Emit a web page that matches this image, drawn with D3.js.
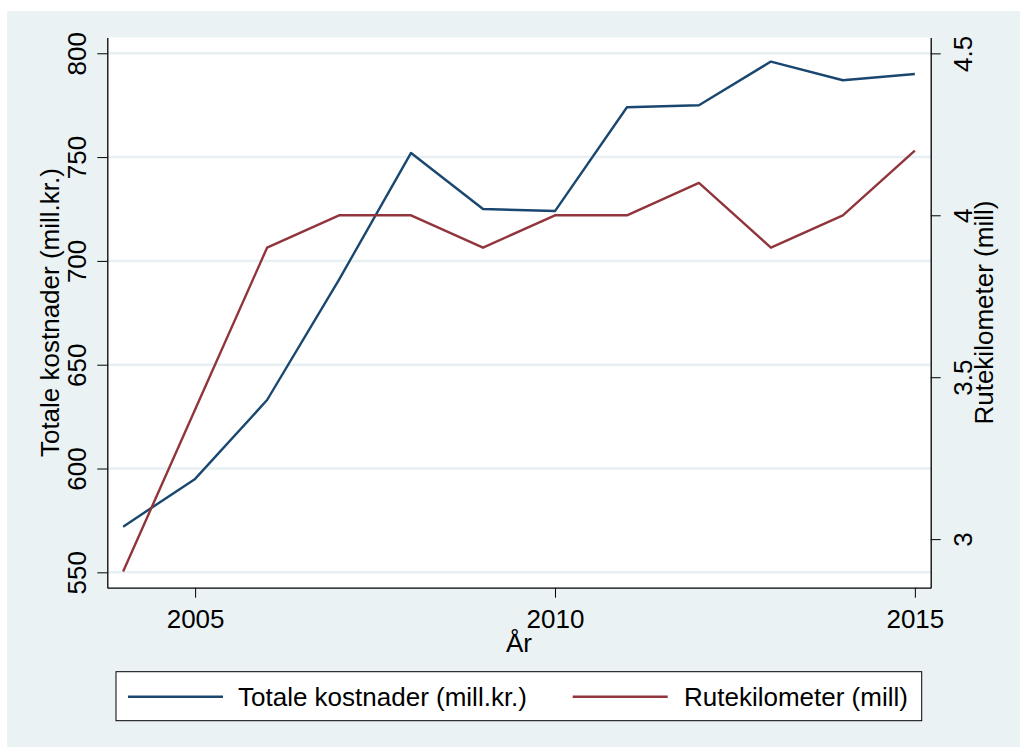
<!DOCTYPE html>
<html>
<head>
<meta charset="utf-8">
<script src="https://cdn.jsdelivr.net/npm/d3@7"></script>
<style>
  html, body { margin: 0; padding: 0; background: #ffffff; }
  svg { display: block; font-family: "Liberation Sans", Arial, sans-serif; }
</style>
</head>
<body>
<svg id="chart" width="1020" height="747"></svg>
<script>
// ---- data ----
const years = [2004, 2005, 2006, 2007, 2008, 2009, 2010, 2011, 2012, 2013, 2014, 2015];
const totalCosts = [572, 595, 633, 691, 752, 725, 724, 774, 775, 796, 787, 790];
const routeKm = [2.9, 3.4, 3.9, 4.0, 4.0, 3.9, 4.0, 4.0, 4.1, 3.9, 4.0, 4.2];
const xTicks = [2005, 2010, 2015];
const leftTicks = [550, 600, 650, 700, 750, 800];
const rightTicks = [3, 3.5, 4, 4.5];
const seriesNames = ["Totale kostnader (mill.kr.)", "Rutekilometer (mill)"];
const xTitle = "År";
const leftTitle = "Totale kostnader (mill.kr.)";
const rightTitle = "Rutekilometer (mill)";

const colors = ["#1a476f", "#90353b"];
const FS = 26;

const svg = d3.select("#chart");
const W = 1020, H = 747;
const plot = { left: 107.3, right: 930.7, top: 37.5, bottom: 587.7 };

// background panel
svg.append("rect").attr("x", 0).attr("y", 0).attr("width", W).attr("height", H).attr("fill", "#ffffff");
svg.append("rect").attr("x", 7).attr("y", 11).attr("width", W - 7).attr("height", H - 11).attr("fill", "#eaf2f3");
svg.append("rect").attr("x", plot.left).attr("y", plot.top)
  .attr("width", plot.right - plot.left).attr("height", plot.bottom - plot.top).attr("fill", "#ffffff");

// scales
const x = d3.scaleLinear().domain([2003.78, 2015.22]).range([plot.left, plot.right]);
const yL = d3.scaleLinear().domain([542.6, 807.6]).range([plot.bottom, plot.top]);
const yR = d3.scaleLinear().domain([2.85, 4.549]).range([plot.bottom, plot.top]);

// gridlines
svg.append("g").selectAll("line").data(leftTicks).join("line")
  .attr("x1", plot.left).attr("x2", plot.right)
  .attr("y1", d => yL(d)).attr("y2", d => yL(d))
  .attr("stroke", "#e6eff1").attr("stroke-width", 2.5);

// lines
const lineL = d3.line().x((d, i) => x(years[i])).y(d => yL(d));
const lineR = d3.line().x((d, i) => x(years[i])).y(d => yR(d));
svg.append("path").datum(totalCosts).attr("d", lineL)
  .attr("fill", "none").attr("stroke", colors[0]).attr("stroke-width", 2.4).attr("stroke-linejoin", "round");
svg.append("path").datum(routeKm).attr("d", lineR)
  .attr("fill", "none").attr("stroke", colors[1]).attr("stroke-width", 2.4).attr("stroke-linejoin", "round");

// axes
function styleAxis(g) {
  g.select(".domain").attr("stroke", "#000").attr("stroke-width", 1.3);
  g.selectAll(".tick line").attr("stroke", "#000").attr("stroke-width", 1);
  g.selectAll(".tick text").attr("fill", "#000").attr("font-size", FS)
    .attr("font-family", "'Liberation Sans', Arial, sans-serif");
}

const gL = svg.append("g").attr("transform", `translate(${plot.left},0)`)
  .call(d3.axisLeft(yL).tickValues(leftTicks).tickSize(10).tickSizeOuter(0).tickFormat(d3.format("d")));
styleAxis(gL);
gL.selectAll(".tick text").attr("transform", "rotate(-90)")
  .attr("x", 0).attr("y", -21).attr("dy", 0).attr("text-anchor", "middle");

const gR = svg.append("g").attr("transform", `translate(${plot.right},0)`)
  .call(d3.axisRight(yR).tickValues(rightTicks).tickSize(10).tickSizeOuter(0).tickFormat(d => String(d)));
styleAxis(gR);
gR.selectAll(".tick text").attr("transform", "rotate(-90)")
  .attr("x", 0).attr("y", 41.3).attr("dy", 0).attr("text-anchor", "middle");

const gB = svg.append("g").attr("transform", `translate(0,${plot.bottom})`)
  .call(d3.axisBottom(x).tickValues(xTicks).tickSize(10).tickSizeOuter(0).tickFormat(d3.format("d")));
styleAxis(gB);
gB.selectAll(".tick text").attr("y", 40.6).attr("dy", 0);

// titles
const cy = (plot.top + plot.bottom) / 2;
svg.append("text").attr("x", (plot.left + plot.right) / 2).attr("y", 652)
  .attr("text-anchor", "middle").attr("font-size", FS).attr("fill", "#000").text(xTitle);
svg.append("text").attr("transform", `translate(59,${cy}) rotate(-90)`)
  .attr("text-anchor", "middle").attr("font-size", FS).attr("fill", "#000").text(leftTitle);
svg.append("text").attr("transform", `translate(993,${cy}) rotate(-90)`)
  .attr("text-anchor", "middle").attr("font-size", FS).attr("fill", "#000").text(rightTitle);

// legend
const lg = svg.append("g");
lg.append("rect").attr("x", 116).attr("y", 671.7).attr("width", 805.7).attr("height", 49)
  .attr("fill", "#fff").attr("stroke", "#000").attr("stroke-width", 1);
const legendItems = [
  { name: seriesNames[0], color: colors[0], x1: 128, x2: 223, tx: 238 },
  { name: seriesNames[1], color: colors[1], x1: 572.7, x2: 667.7, tx: 684 }
];
legendItems.forEach(it => {
  lg.append("line").attr("x1", it.x1).attr("x2", it.x2).attr("y1", 696.7).attr("y2", 696.7)
    .attr("stroke", it.color).attr("stroke-width", 2.4);
  lg.append("text").attr("x", it.tx).attr("y", 706).attr("font-size", FS).attr("fill", "#000").text(it.name);
});
</script>
</body>
</html>
